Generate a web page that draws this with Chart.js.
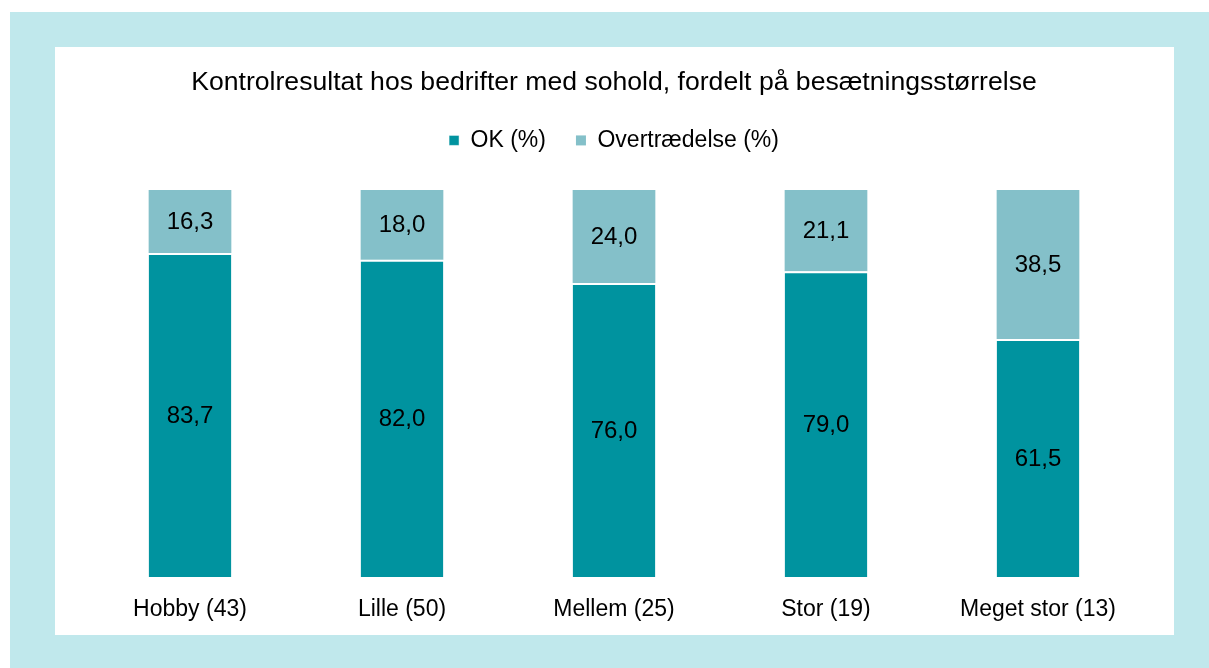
<!DOCTYPE html>
<html>
<head>
<meta charset="utf-8">
<script src="https://cdn.jsdelivr.net/npm/chart.js@4.4.0/dist/chart.umd.min.js"></script>
<style>
  html, body { margin: 0; padding: 0; background: #ffffff; width: 1209px; height: 668px; overflow: hidden; }
  #frame { position: absolute; left: 10px; top: 12px; width: 1199px; height: 656px; background: #c0e8ec; }
  #panel { position: absolute; left: 55px; top: 47px; width: 1119px; height: 588px; background: #ffffff; }
  #panel canvas { display: block; }
</style>
</head>
<body>
<div id="frame"></div>
<div id="panel"><canvas id="c" width="1119" height="588"></canvas></div>
<script>
const categories = ["Hobby (43)", "Lille (50)", "Mellem (25)", "Stor (19)", "Meget stor (13)"];
const okValues = [83.7, 82.0, 76.0, 79.0, 61.5];
const violationValues = [16.3, 18.0, 24.0, 21.1, 38.5];
const seriesNames = ["OK (%)", "Overtrædelse (%)"];
const titleText = "Kontrolresultat hos bedrifter med sohold, fordelt på besætningsstørrelse";

const FONT = "'Liberation Sans', Arial, Helvetica, sans-serif";

const legendHeight = {
  id: 'legendHeight',
  beforeInit(chart) {
    const lg = chart.legend;
    if (!lg) return;
    const origFit = lg.fit;
    lg.fit = function () {
      origFit.call(this);
      this.height = 91.1;
    };
  }
};

const valueLabels = {
  id: 'valueLabels',
  afterDatasetsDraw(chart) {
    const ctx = chart.ctx;
    ctx.save();
    ctx.font = "24px " + FONT;
    ctx.fillStyle = "#000000";
    ctx.textAlign = "center";
    ctx.textBaseline = "middle";
    chart.data.datasets.forEach((ds, i) => {
      const meta = chart.getDatasetMeta(i);
      meta.data.forEach((bar, j) => {
        const v = ds.data[j];
        const y = (bar.y + bar.base) / 2;
        ctx.fillText(v.toFixed(1).replace('.', ','), bar.x, y + 1);
      });
    });
    ctx.restore();
  }
};

new Chart(document.getElementById('c'), {
  type: 'bar',
  data: {
    labels: categories,
    datasets: [
      { label: seriesNames[0], data: okValues, backgroundColor: '#00939f', borderColor: '#ffffff', borderWidth: {top: 2, left: 0, right: 0, bottom: 0}, borderSkipped: false },
      { label: seriesNames[1], data: violationValues, backgroundColor: '#84c0c9', borderWidth: 0 }
    ]
  },
  options: {
    responsive: false,
    animation: false,
    devicePixelRatio: 1,
    categoryPercentage: 1,
    barPercentage: 0.39,
    layout: { padding: { left: 29, right: 30, top: 0, bottom: 0 } },
    plugins: {
      title: { display: true, text: titleText, color: '#000000', font: { family: FONT, size: 26.6, weight: 'normal' }, padding: { top: 20, bottom: 0 } },
      legend: { display: true, position: 'top', labels: { color: '#000000', font: { family: FONT, size: 23 }, boxWidth: 10, boxHeight: 10, padding: 30 } },
      tooltip: { enabled: false }
    },
    scales: {
      x: {
        stacked: true,
        grid: { display: false, drawTicks: false },
        border: { display: false },
        ticks: { color: '#000000', font: { family: FONT, size: 23 }, padding: 19 },
        afterFit(scale) { scale.height = 58; }
      },
      y: { stacked: true, min: 0, max: 100, display: false }
    }
  },
  plugins: [legendHeight, valueLabels]
});
</script>
</body>
</html>
